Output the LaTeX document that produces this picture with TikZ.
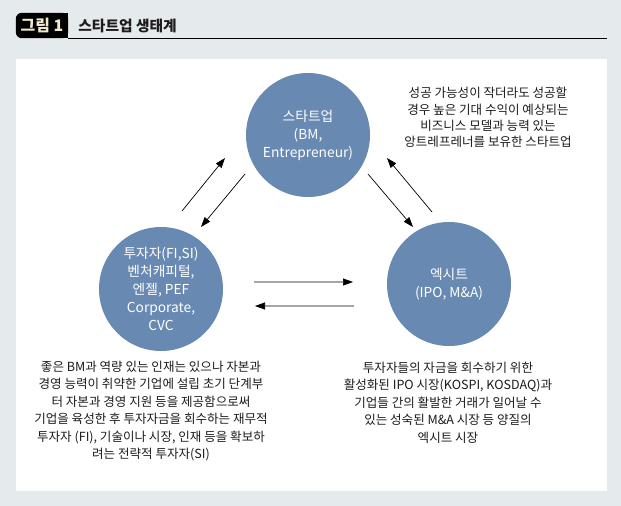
\documentclass[tikz,border=0pt]{standalone}
\usepackage{fontspec}
\setmainfont{Noto Sans CJK KR}
\usepackage{tikz}
\usetikzlibrary{
  arrows.meta,
  backgrounds,
  positioning
}
\definecolor{bggray}{RGB}{229,234,237}
\definecolor{hubblue}{RGB}{104,137,178}
\definecolor{inkblack}{RGB}{30,27,28}
\definecolor{tabcream}{RGB}{242,232,204}
\newcommand\fixedlead{\lineskiplimit=-100pt\relax}
\tikzset{
  board/.style={fill=white,draw=none,inner sep=0pt,
    minimum width=591bp,minimum height=432bp},
  hub/.style={circle,fill=hubblue,draw=none,minimum size=124bp,inner sep=0pt,
    text=white,align=center,
    font=\fontsize{13.8}{18}\selectfont\fixedlead},
  note/.style={align=center,text=inkblack,inner sep=0pt,
    font=\fontsize{12.6}{17.6}\selectfont\fixedlead},
  tightnote/.style={note,font=\fontsize{12.6}{16.3}\selectfont\fixedlead},
  figtab/.style={minimum width=52bp,minimum height=25bp,inner sep=0pt,
    text=tabcream,font=\fontsize{16}{16}\selectfont\bfseries},
  figtitle/.style={inner sep=0pt,text=inkblack,
    font=\fontsize{14.8}{14.8}\selectfont\bfseries},
  rule/.style={line width=0.9bp,draw=black},
  flow/.style={-{Triangle[length=10bp,width=7bp]},line width=0.7bp,draw=black}
}

\begin{document}
\begin{tikzpicture}[x=1bp,y=-1bp,on grid]
  \begin{scope}[on background layer]
    \fill[bggray] (0,0) rectangle (621,506);
  \end{scope}
  \useasboundingbox (0,0) rectangle (621,506);
  \node[board] (panel) at (311.5,275) {};
  \node[figtab] (fig) at (42,25.5) {그림 1};
  \begin{scope}[on background layer]
    \fill[black,rounded corners=6bp] (fig.south west) rectangle (fig.north east);
    \fill[black] (fig.south) rectangle (fig.north east);
  \end{scope}
  \node[figtitle,anchor=west] (title) at ([xshift=10bp]fig.east) {스타트업 생태계};
  \draw[rule] (fig.south east) -- (fig.south east -| panel.east);

  \node[hub] (startup) at (308,135) {스타트업\\(BM,\\Entrepreneur)};
  \node[hub,below left=154bp and 147bp of startup] (investor)
    {투자자(FI,SI)\\벤처캐피털,\\엔젤, PEF\\Corporate,\\CVC};
  \node[hub,below right=149bp and 141bp of startup] (exit)
    {엑시트\\(IPO, M\&A)};

  \node[tightnote,above right=17.5bp and 180bp of startup] (startupnote)
    {성공 가능성이 작더라도 성공할\\경우 높은 기대 수익이 예상되는\\
     비즈니스 모델과 능력 있는\\앙트레프레너를 보유한 스타트업};
  \node[note,below=122bp of investor,xshift=-10bp] (investornote)
    {좋은 BM과 역량 있는 인재는 있으나 자본과\\경영 능력이 취약한 기업에 설립 초기 단계부\\
     터 자본과 경영 지원 등을 제공함으로써\\기업을 육성한 후 투자자금을 회수하는 재무적\\
     투자자 (FI), 기술이나 시장, 인재 등을 확보하\\려는 전략적 투자자(SI)};
  \node[note,below=118.5bp of exit,xshift=-1bp] (exitnote)
    {투자자들의 자금을 회수하기 위한\\활성화된 IPO 시장(KOSPI, KOSDAQ)과\\
     기업들 간의 활발한 거래가 일어날 수\\있는 성숙된 M\&A 시장 등 양질의\\엑시트 시장};

  \draw[flow] ([shift={(21,-78)}]investor.center) -- ([shift={(-83,23)}]startup.center);
  \draw[flow] ([shift={(-63,39)}]startup.center) -- ([shift={(40,-62)}]investor.center);
  \draw[flow] ([shift={(60,39)}]startup.center) -- ([shift={(-36,-57)}]exit.center);
  \draw[flow] ([shift={(-17,-72)}]exit.center) -- ([shift={(79,23)}]startup.center);
  \draw[flow] ([shift={(93,-7)}]investor.center) -- ([shift={(-96,-2)}]exit.center);
  \draw[flow] ([shift={(-95,22)}]exit.center) -- ([shift={(94,17)}]investor.center);
\end{tikzpicture}
\end{document}
